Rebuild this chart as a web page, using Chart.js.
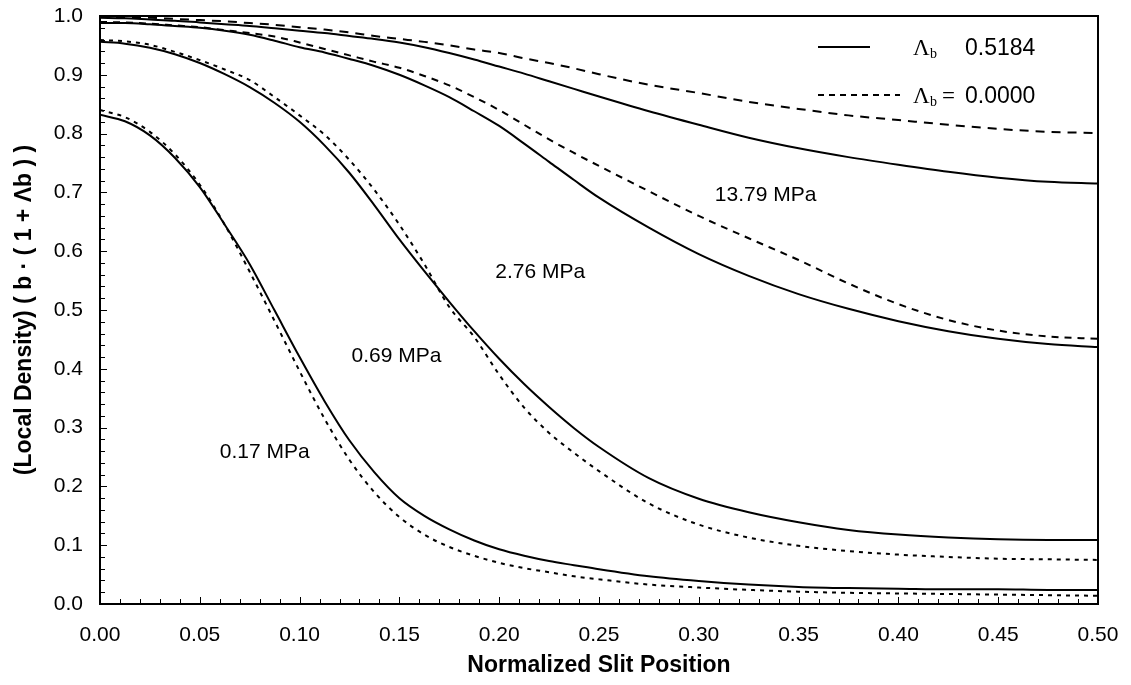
<!DOCTYPE html>
<html>
<head>
<meta charset="utf-8">
<title>Local density vs slit position</title>
<script src="https://cdn.jsdelivr.net/npm/chart.js@4.4.1/dist/chart.umd.min.js"></script>
<style>
    html, body { margin: 0; padding: 0; background: #fff; }
    #wrap { width: 1131px; height: 685px; }
</style>
</head>
<body>
<div id="wrap"><canvas id="chart" width="1131" height="685"></canvas></div>
<script>
/* Density profiles across the slit */

// Data
const xPos = [0, 0.0125, 0.025, 0.0375, 0.05, 0.0625, 0.075, 0.0875, 0.1, 0.1125, 0.125, 0.1375,
    0.15, 0.1625, 0.175, 0.1875, 0.2, 0.2125, 0.225, 0.2375, 0.25, 0.275, 0.3, 0.325, 0.35,
    0.375, 0.4, 0.425, 0.45, 0.475, 0.5];

const p1379Solid = [0.997, 0.996, 0.994, 0.992, 0.989, 0.986, 0.983, 0.979, 0.975, 0.971, 0.966, 0.961,
    0.955, 0.947, 0.937, 0.926, 0.914, 0.902, 0.889, 0.876, 0.863, 0.838, 0.815, 0.793, 0.775,
    0.760, 0.747, 0.735, 0.725, 0.718, 0.715];
const p1379Zero = [0.999, 0.998, 0.997, 0.995, 0.993, 0.991, 0.988, 0.985, 0.981, 0.977, 0.972, 0.966,
    0.961, 0.956, 0.950, 0.943, 0.937, 0.928, 0.920, 0.911, 0.901, 0.883, 0.869, 0.854, 0.842,
    0.831, 0.823, 0.815, 0.808, 0.803, 0.801];

const p276Solid = [0.988, 0.988, 0.986, 0.983, 0.980, 0.975, 0.968, 0.958, 0.947, 0.938, 0.927, 0.915,
    0.900, 0.882, 0.862, 0.838, 0.813, 0.783, 0.752, 0.721, 0.691, 0.640, 0.595, 0.558, 0.527,
    0.502, 0.481, 0.464, 0.451, 0.442, 0.437];
const p276Zero = [0.990, 0.989, 0.987, 0.984, 0.981, 0.976, 0.971, 0.965, 0.955, 0.944, 0.933, 0.922,
    0.912, 0.898, 0.882, 0.862, 0.840, 0.815, 0.790, 0.767, 0.745, 0.702, 0.660, 0.622, 0.585,
    0.545, 0.510, 0.483, 0.465, 0.455, 0.451];

const p069Solid = [0.956, 0.953, 0.946, 0.935, 0.920, 0.901, 0.879, 0.852, 0.820, 0.780, 0.733, 0.678,
    0.620, 0.566, 0.514, 0.464, 0.417, 0.374, 0.335, 0.299, 0.267, 0.214, 0.179, 0.156, 0.139,
    0.126, 0.118, 0.113, 0.110, 0.109, 0.109];
const p069Zero = [0.959, 0.957, 0.951, 0.939, 0.925, 0.909, 0.891, 0.862, 0.831, 0.798, 0.755, 0.704,
    0.645, 0.578, 0.505, 0.454, 0.390, 0.334, 0.291, 0.257, 0.226, 0.171, 0.135, 0.113, 0.099,
    0.090, 0.084, 0.080, 0.077, 0.076, 0.075];

const p017Solid = [0.832, 0.821, 0.797, 0.759, 0.709, 0.645, 0.578, 0.499, 0.420, 0.345, 0.278, 0.224,
    0.180, 0.150, 0.127, 0.108, 0.093, 0.082, 0.073, 0.066, 0.059, 0.047, 0.039, 0.033, 0.029,
    0.027, 0.026, 0.025, 0.025, 0.024, 0.024];
const p017Zero = [0.840, 0.828, 0.803, 0.765, 0.713, 0.645, 0.565, 0.481, 0.396, 0.315, 0.245, 0.190,
    0.148, 0.118, 0.097, 0.082, 0.070, 0.061, 0.054, 0.047, 0.042, 0.033, 0.028, 0.024, 0.021,
    0.019, 0.018, 0.017, 0.016, 0.015, 0.014];

// Curve labels, placed in data coordinates
const curveLabels = ['13.79 MPa', '2.76 MPa', '0.69 MPa', '0.17 MPa'];
const curveLabelX = [0.308, 0.198, 0.126, 0.060];
const curveLabelY = [0.695, 0.565, 0.421, 0.259];

const legendValues = ['0.5184', '0.0000'];

const FONT = '"Liberation Sans", Arial, Helvetica, sans-serif';
const SERIF = '"Liberation Serif", "Times New Roman", serif';

function toPoints(ys) {
    return ys.map((y, i) => ({ x: xPos[i], y: y }));
}

function makeSet(label, ys, dash) {
    return {
        label: label,
        data: toPoints(ys),
        borderColor: '#000',
        borderWidth: 2,
        borderDash: dash,
        pointRadius: 0,
        fill: false,
        cubicInterpolationMode: 'monotone',
    };
}

const datasets = [
    makeSet('13.79 MPa, 0.5184', p1379Solid, []),
    makeSet('13.79 MPa, 0.0000', p1379Zero, [9, 7]),
    makeSet('2.76 MPa, 0.5184', p276Solid, []),
    makeSet('2.76 MPa, 0.0000', p276Zero, [7, 6]),
    makeSet('0.69 MPa, 0.5184', p069Solid, []),
    makeSet('0.69 MPa, 0.0000', p069Zero, [4, 5]),
    makeSet('0.17 MPa, 0.5184', p017Solid, []),
    makeSet('0.17 MPa, 0.0000', p017Zero, [4, 5]),
];

// Frame, inward ticks, curve labels and legend
const decorations = {
    id: 'decorations',
    afterDatasetsDraw(chart) {
        const ctx = chart.ctx;
        const area = chart.chartArea;
        const xs = chart.scales.x;
        const ys = chart.scales.y;

        ctx.save();
        ctx.strokeStyle = '#000';
        ctx.lineWidth = 1;

        // x ticks every 0.01
        for (let i = 0; i <= 50; i++) {
            const px = Math.round(xs.getPixelForValue(i / 100)) + 0.5;
            const len = i % 5 === 0 ? 7 : 5;
            ctx.beginPath();
            ctx.moveTo(px, area.bottom);
            ctx.lineTo(px, area.bottom - len);
            ctx.stroke();
        }
        // y ticks every 0.02
        for (let i = 0; i <= 50; i++) {
            const py = Math.round(ys.getPixelForValue(i / 50)) + 0.5;
            const len = i % 5 === 0 ? 7 : 5;
            ctx.beginPath();
            ctx.moveTo(area.left, py);
            ctx.lineTo(area.left + len, py);
            ctx.stroke();
        }

        // plot frame
        ctx.lineWidth = 2;
        ctx.strokeRect(area.left, area.top, area.right - area.left, area.bottom - area.top);

        // curve labels
        ctx.fillStyle = '#000';
        ctx.font = '21px ' + FONT;
        ctx.textAlign = 'left';
        ctx.textBaseline = 'middle';
        curveLabels.forEach((txt, i) => {
            ctx.fillText(txt, xs.getPixelForValue(curveLabelX[i]), ys.getPixelForValue(curveLabelY[i]));
        });

        // legend
        const lx = area.left + 718;
        const rows = [area.top + 31, area.top + 79];
        ctx.lineWidth = 2;
        ctx.beginPath();
        ctx.setLineDash([]);
        ctx.moveTo(lx, rows[0]);
        ctx.lineTo(lx + 52, rows[0]);
        ctx.stroke();
        ctx.beginPath();
        ctx.setLineDash([6, 5]);
        ctx.moveTo(lx, rows[1]);
        ctx.lineTo(lx + 82, rows[1]);
        ctx.stroke();
        ctx.setLineDash([]);

        ctx.textBaseline = 'alphabetic';
        rows.forEach((ry, i) => {
            const base = ry + 8;
            ctx.font = '23px ' + SERIF;
            ctx.fillText('Λ', lx + 95, base);
            ctx.font = '14px ' + SERIF;
            ctx.fillText('b', lx + 112, base + 3);
            if (i === 1) {
                ctx.font = '23px ' + SERIF;
                ctx.fillText('=', lx + 124, base);
            }
            ctx.font = '23px ' + FONT;
            ctx.fillText(legendValues[i], lx + 147, base);
        });

        ctx.restore();
    }
};

const ctx = document.getElementById('chart').getContext('2d');

new Chart(ctx, {
    type: 'line',
    data: { datasets: datasets },
    plugins: [decorations],
    options: {
        responsive: false,
        animation: false,
        layout: { padding: { left: 0, right: 33, top: 16, bottom: 0 } },
        plugins: {
            legend: { display: false },
            tooltip: { enabled: false },
        },
        scales: {
            x: {
                type: 'linear',
                min: 0,
                max: 0.5,
                afterFit: (scale) => {
                    scale.height = 81;
                    scale.paddingLeft = 0;
                    scale.paddingRight = 0;
                },
                ticks: {
                    stepSize: 0.05,
                    color: '#000',
                    padding: 19,
                    maxRotation: 0,
                    font: { family: FONT, size: 21 },
                    callback: (v) => v.toFixed(2),
                },
                grid: { display: false, drawTicks: false },
                border: { display: false },
                title: {
                    display: true,
                    text: 'Normalized Slit Position',
                    color: '#000',
                    font: { family: FONT, size: 23, weight: 'bold' },
                    padding: { top: 0, bottom: 6 },
                },
            },
            y: {
                type: 'linear',
                min: 0,
                max: 1,
                afterFit: (scale) => {
                    scale.width = 100;
                    scale.paddingTop = 0;
                    scale.paddingBottom = 0;
                },
                ticks: {
                    stepSize: 0.1,
                    color: '#000',
                    padding: 17,
                    font: { family: FONT, size: 21 },
                    callback: (v) => v.toFixed(1),
                },
                grid: { display: false, drawTicks: false },
                border: { display: false },
                title: {
                    display: true,
                    text: '(Local Density) ( b · ( 1 + Λb ) )',
                    color: '#000',
                    font: { family: FONT, size: 23, weight: 'bold' },
                    padding: { top: 11, bottom: 0 },
                },
            },
        },
    },
});
</script>
</body>
</html>
